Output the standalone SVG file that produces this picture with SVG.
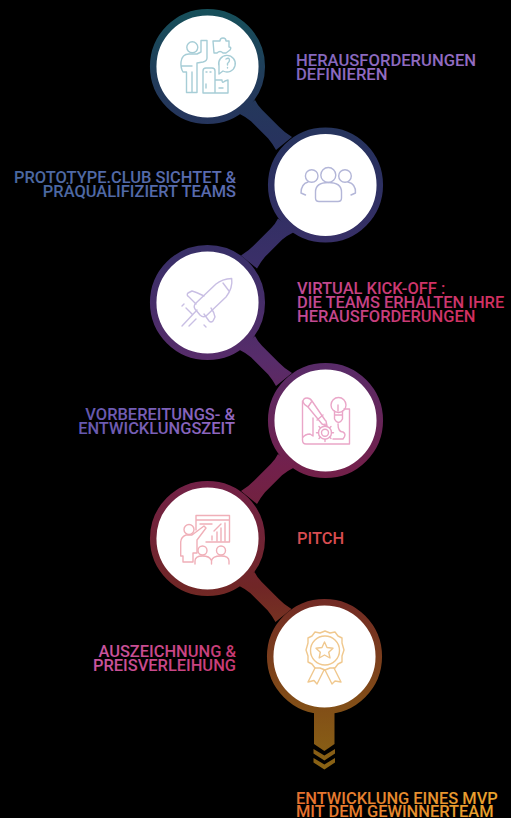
<svg xmlns="http://www.w3.org/2000/svg" width="511" height="818" viewBox="0 0 511 818">
<style>
.ring{fill:#fff;stroke:url(#path);stroke-width:6.5}
.conn{fill:url(#path)}
.ic{fill:none;stroke-width:1.4;stroke-linecap:round;stroke-linejoin:round}
text{font-family:Roboto,"Liberation Sans",sans-serif;font-weight:500;font-size:16.45px}
.r{text-anchor:end}
.w{font-size:16.6px}
</style>
<defs>
<linearGradient id="path" gradientUnits="userSpaceOnUse" x1="0" y1="9" x2="0" y2="770">
<stop offset="0" stop-color="#16505a"/>
<stop offset=".1" stop-color="#223a5a"/>
<stop offset=".2" stop-color="#29305f"/>
<stop offset=".33" stop-color="#3a2f68"/>
<stop offset=".46" stop-color="#572c6a"/>
<stop offset=".6" stop-color="#72204c"/>
<stop offset=".76" stop-color="#702626"/>
<stop offset=".9" stop-color="#804a18"/>
<stop offset="1" stop-color="#8a6414"/>
</linearGradient>
<linearGradient id="t1"><stop offset="0" stop-color="#8468bd"/><stop offset="1" stop-color="#946cc2"/></linearGradient>
<linearGradient id="t2"><stop offset="0" stop-color="#4a68a0"/><stop offset="1" stop-color="#5c6cb2"/></linearGradient>
<linearGradient id="t3"><stop offset="0" stop-color="#c04c98"/><stop offset="1" stop-color="#d22f5e"/></linearGradient>
<linearGradient id="t4"><stop offset="0" stop-color="#6458ae"/><stop offset="1" stop-color="#9468c2"/></linearGradient>
<linearGradient id="t6"><stop offset="0" stop-color="#c9559f"/><stop offset="1" stop-color="#c93a72"/></linearGradient>
<linearGradient id="t7"><stop offset="0" stop-color="#e6702f"/><stop offset="1" stop-color="#e8a52e"/></linearGradient>
</defs>
<rect width="511" height="818" fill="#000"/>

<g id="connectors">
<path class="conn" d="M255,100Q258,106 262,109.7L279,126.7Q284,132 292,137L276,150Q272,143 268,138.3L251,121.3Q246,117 238,113Z"/>
<path class="conn" d="M278,218.5Q275,224.5 271,228.2L254,245.2Q249,250.5 241,255.5L257,268.5Q261,261.5 265,256.8L282,239.8Q287,235.5 295,231.5Z"/>
<path class="conn" d="M255,336Q258,342 262,345.7L279,362.7Q284,368 292,373L276,386Q272,379 268,374.3L251,357.3Q246,353 238,349Z"/>
<path class="conn" d="M278,454Q275,460 271,463.7L254,480.7Q249,486 241,491L257,504Q261,497 265,492.3L282,475.3Q287,471 295,467Z"/>
<path class="conn" d="M254.5,572Q257.5,578 261.5,581.7L278.5,598.7Q283.5,604 291.5,609L275.5,622Q271.5,615 267.5,610.3L250.5,593.3Q245.5,589 237.5,585Z"/>
<path class="conn" d="M314,708H334.5V744L324.4,751L314,744Z"/>
<path class="conn" d="M313.5,749L324.4,755.5L335,749V753.5L324.4,760.5L313.5,753.5Z"/>
<path class="conn" d="M313.5,758L324.4,764.5L335,758V762.5L324.4,769.5L313.5,762.5Z"/>
</g>

<g id="node1">
<circle class="ring" cx="207.5" cy="66.5" r="54.3"/>
<g class="ic" stroke="#a6cdd6">
<circle cx="192.3" cy="47.3" r="5.5"/>
<path d="M186.5,92.5V72H183Q180.5,68 181,62Q182,54 189,54H197L201,52V40.5H207V58Q207,61 203,62L197,63V92.5H192V72M186.5,92.5H192M197,92.5H192M181,66H192"/>
<path d="M213,41H220Q220,38 223,38Q226,38 226,41H229V47Q232,47 230,50L226,53H223Q220,50 217,53H214Z"/>
<path d="M219,66A8.3,8.3 0 1 1 223,71L219,74Z"/>
<path d="M226,59Q229,57 229.5,60Q229.5,62 227.5,63.5V65M227.5,67.5V68"/>
<path d="M203,71Q203,68 206,68H212Q215,68 215,71V80H222Q222,84 225,81L228,80V93H203ZM215,80V93M206,72H207M210,72H211M206,84V88M219,88H223"/>
</g>
</g>

<g id="node2">
<circle class="ring" cx="325.5" cy="185" r="54.3"/>
<g class="ic" stroke="#b3b6d8" stroke-width="1.7">
<circle cx="328.3" cy="175" r="7.5"/>
<circle cx="311.7" cy="176" r="6.3"/>
<circle cx="345" cy="176" r="6.3"/>
<path d="M315.5,198V192Q315.5,182.5 328.3,182.5Q341.5,182.5 341.5,192V198Q341.5,201.5 338,201.5H319Q315.5,201.5 315.5,198Z"/>
<path d="M308,182Q301,184 301,193L305.5,195M348,182Q356,184 355.5,193L351,195"/>
</g>
</g>

<g id="node3">
<circle class="ring" cx="207.5" cy="302.5" r="54.3"/>
<g class="ic" stroke="#c9bfe4">
<path d="M231.7,278.5Q233,288 226,297L206,316Q203,318 200,315L195,309Q193,306 196,303L216,284Q222,279 231.7,278.5Z"/>
<path d="M196,304L189,297Q186,295 188,293L192,291Q196,292 204,296M204,314L209,321Q211,323 213,321L215,317Q214,312 211,308"/>
<path d="M223,283L229,291M186,308L192,314M182,326L197,310M196,319L189,326M184,304L182,306M204,325L206,327"/>
</g>
</g>

<g id="node4">
<circle class="ring" cx="325.5" cy="420.5" r="54.3"/>
<g class="ic" stroke="#eaa6c8">
<path d="M302.5,401V440Q302.5,444 306,444H349.5V409H344M302.5,438Q305,434 310,434L313,436V418"/>
<path d="M303,402Q303,398 307,398Q310,398 312,401L325,420L326,421L327,426L322,424L308,407Q304,405 303,402ZM308,407L312,401M317,420L323,415"/>
<circle cx="338.5" cy="405" r="7.5"/>
<path d="M334.5,411V419Q338.5,426 342.5,419V411M335,415H342M338,411V405M338,424Q338,432 343,432Q347,434 343,439H333"/>
<circle cx="325" cy="432.7" r="3.5"/>
<circle cx="325" cy="432.7" r="6.5"/>
<path d="M325,424V426M325,439.5V441.5M316.5,432.7H318.5M331.5,432.7H333.5M319,426.5L320.5,428M329.5,437L331,438.5M331,426.5L329.5,428M320.5,437L319,438.5"/>
</g>
</g>

<g id="node5">
<circle class="ring" cx="207.5" cy="538.5" r="54.3"/>
<g class="ic" stroke="#f0afb8">
<path d="M196,530V515.5H229.5V542H206M196,520H229.5"/>
<path d="M200,524H212M212,536V540M217,532V541M221,528V541M225,523V541M214,531L221,524"/>
<circle cx="189" cy="529.5" r="5"/>
<path d="M186,535H192L204,526L206,528L197,540V553H193V562H183V556H180.7V542Q181,537 186,535Z"/>
<circle cx="202.5" cy="550.5" r="4.5"/>
<circle cx="221" cy="550.5" r="4.5"/>
<path d="M195,564V561Q195,556 202.5,556Q209.5,556 211,560M211.5,564V561Q212,556 221,556Q229,556 229,561V564"/>
</g>
</g>

<g id="node6">
<circle class="ring" cx="324.5" cy="656.5" r="54.3"/>
<g class="ic" stroke="#f0c88e">
<path d="M325,631L330,633L335,632L338,636L342,638L342,643L344,650L342,656L342,662L338,664L335,668L330,668L325,670L320,668L315,668L312,664L308,662L308,656L306,650L308,643L308,638L312,636L315,632L320,633Z"/>
<circle cx="325" cy="650.5" r="14.5"/>
<path d="M324.5,642L327,647.5L333,648.2L328.7,652.2L330,658L324.5,655L319.2,658L320.3,652.2L316,648.2L322,647.5Z"/>
<path d="M315,668L308,682L314,680.5L317,684L324,670M334,668L341,682L335,681L332,684L325,670"/>
</g>
</g>

<g id="labels">
<text class="w" x="296" y="66" fill="url(#t1)">HERAUSFORDERUNGEN</text>
<text class="w" x="296" y="79.5" fill="url(#t1)">DEFINIEREN</text>
<text class="r" x="236" y="183" fill="url(#t2)">PROTOTYPE.CLUB SICHTET &amp;</text>
<text class="r" x="236" y="197" fill="url(#t2)">PRÄQUALIFIZIERT TEAMS</text>
<text x="297" y="294" fill="url(#t3)">VIRTUAL KICK-OFF :</text>
<text x="297" y="308" fill="url(#t3)">DIE TEAMS ERHALTEN IHRE</text>
<text x="297" y="322" fill="url(#t3)">HERAUSFORDERUNGEN</text>
<text class="r" x="235" y="420" fill="url(#t4)">VORBEREITUNGS- &amp;</text>
<text class="r" x="235" y="434" fill="url(#t4)">ENTWICKLUNGSZEIT</text>
<text x="297" y="544" fill="#d84c50">PITCH</text>
<text class="r" x="236" y="657" fill="url(#t6)">AUSZEICHNUNG &amp;</text>
<text class="r" x="236" y="671" fill="url(#t6)">PREISVERLEIHUNG</text>
<text x="296" y="804" fill="url(#t7)">ENTWICKLUNG EINES MVP</text>
<text x="296" y="817" fill="url(#t7)">MIT DEM GEWINNERTEAM</text>
</g>
</svg>
